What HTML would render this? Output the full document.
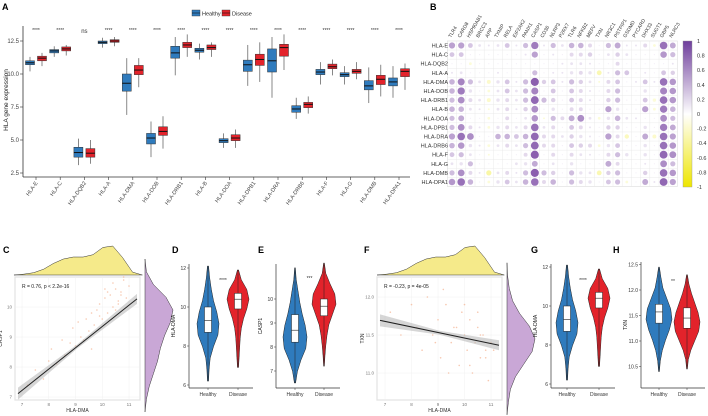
<!DOCTYPE html>
<html><head><meta charset="utf-8"><style>
body{margin:0;background:#fff}
svg{display:block;font-family:"Liberation Sans",Arial,sans-serif}
</style></head><body>
<svg id="fig" width="708" height="416" viewBox="0 0 708 416"></svg>
<script>
// ---------- Panel A data ----------
const genes=["HLA-E","HLA-C","HLA-DQB2","HLA-A","HLA-DMA","HLA-DOB","HLA-DRB1","HLA-B","HLA-DOA","HLA-DPB1","HLA-DRA","HLA-DRB6","HLA-F","HLA-G","HLA-DMB","HLA-DPA1"];
const healthyMed=[10.85,11.75,4.05,12.4,9.3,5.15,11.6,11.8,4.95,10.7,11.0,7.35,10.15,9.95,9.1,9.4];
const healthyQ1=[10.7,11.6,3.7,12.3,8.7,4.7,11.2,11.65,4.8,10.2,10.15,7.1,9.95,9.8,8.8,9.1];
const healthyQ3=[11.0,11.85,4.45,12.5,10.0,5.5,12.1,11.95,5.1,11.05,11.9,7.6,10.35,10.1,9.5,9.7];
const healthyLo=[10.2,11.3,3.1,12.0,6.9,3.7,9.9,11.1,4.4,9.1,8.2,6.6,9.2,9.2,7.8,8.2];
const healthyHi=[11.3,12.1,5.1,12.75,11.2,6.4,12.8,12.3,5.5,12.2,12.8,8.2,10.9,10.6,10.5,10.6];
const diseaseMed=[11.2,11.9,4.0,12.5,10.3,5.65,12.2,12.0,5.15,11.1,12.0,7.7,10.55,10.2,9.6,10.2];
const diseaseQ1=[11.0,11.75,3.7,12.4,9.95,5.35,12.0,11.85,4.95,10.65,11.35,7.45,10.4,10.05,9.2,9.8];
const diseaseQ3=[11.35,12.05,4.35,12.6,10.65,6.0,12.4,12.2,5.4,11.5,12.25,7.85,10.75,10.35,9.9,10.4];
const diseaseLo=[10.6,11.4,3.2,12.1,9.0,4.35,11.3,11.3,4.4,9.4,10.3,7.0,9.9,9.6,8.3,8.8];
const diseaseHi=[11.6,12.2,5.0,12.8,11.2,6.8,13.0,12.4,5.8,12.4,13.0,8.3,11.1,10.9,10.7,10.8];
const sigLabels=["****","****","ns","****","****","****","****","****","****","****","****","****","****","****","****","****"];
const yTicksA=[2.5,5.0,7.5,10.0,12.5];
// ---------- Panel B data ----------
const corrRows=["HLA-E","HLA-C","HLA-DQB2","HLA-A","HLA-DMA","HLA-DOB","HLA-DRB1","HLA-B","HLA-DOA","HLA-DPB1","HLA-DRA","HLA-DRB6","HLA-F","HLA-G","HLA-DMB","HLA-DPA1"];
const corrCols=["TLR4","CARD8","HSP90AB1","BRCC3","APP","TXNIP","RELA","EIF2AK2","PANX1","CASP1","CD36","NLRP3","P2RX7","TLR6","NFKB2","MEFV","TXN","NR3C1","PSTPIP1","GSDMD","PYCARD","DHX33","SUGT1","GBP5","NLRC3"];
const corrVals=[
[.5,.5,.3,.1,.05,.1,.3,.05,.35,.7,.05,.35,.1,.4,.4,.2,0,.35,.45,.05,.05,.2,-.1,.75,.45],
[.3,.3,0,0,0,0,0,0,.05,.5,0,.05,0,.2,.2,.25,0,.1,.25,.1,0,0,0,.55,.35],
[0,0,-.1,0,0,0,0,0,0,0,0,0,.05,.1,.1,.05,0,0,.2,0,0,0,0,0,.05],
[.05,.1,0,0,0,.05,0,0,0,.35,0,.05,.05,.15,.2,.15,-.3,.05,.35,.3,0,.05,0,.3,.25],
[.4,.65,.35,.1,-.2,.15,.3,.05,.35,.85,.25,.3,.05,.35,.25,.1,-.05,.2,.3,0,.05,.3,.05,.75,.55],
[.4,.7,.15,0,-.1,.1,.3,.1,.35,.65,0,.3,0,.3,.2,.05,0,.2,.35,0,0,.15,0,.65,.55],
[.35,.6,.2,.1,-.2,.15,.2,.1,.35,.8,.35,.25,0,.3,.2,.05,0,.25,.35,0,0,.3,-.15,.75,.55],
[.4,.4,.1,.05,-.05,.1,.2,.05,.25,.6,0,.15,0,.2,.2,0,0,.5,.15,0,0,.5,-.1,.7,.4],
[.35,.45,0,0,-.1,0,.2,0,.1,.55,-.05,.35,.2,.45,.6,.1,-.1,.15,.4,.1,.05,0,0,.6,.35],
[.35,.6,.2,.05,-.1,.15,.2,.1,.2,.75,.1,.2,0,.3,.2,.05,0,.25,.25,0,0,.15,0,.7,.45],
[.5,.75,.6,0,0,.4,.4,.3,.4,.8,.2,.2,.1,.25,.15,.05,0,.5,.2,-.25,0,.45,-.2,.75,.5],
[.4,.55,.15,.05,-.1,.1,.2,.1,.35,.8,.2,.2,0,.3,.25,.2,-.1,.15,.3,0,0,.15,0,.75,.55],
[.3,.35,.1,0,-.05,0,0,0,.2,.85,0,.2,0,.2,.1,.05,0,.2,.35,.15,0,.15,0,.8,.6],
[.1,.15,.35,0,0,0,0,.1,.15,.45,0,.1,0,.15,0,0,0,.45,.2,0,0,.05,0,.6,.35],
[.35,.6,.2,.05,-.35,.1,.2,.05,.35,.85,.35,.25,0,.35,.15,.1,-.3,.25,.35,0,0,.25,0,.75,.55],
[.55,.75,.4,0,-.1,.15,.3,.1,.4,.75,.2,.4,0,.35,.2,.15,0,.3,.35,-.1,0,.45,.05,.8,.5]];
const cbarTicks=[1,0.8,0.6,0.4,0.2,0,-0.2,-0.4,-0.6,-0.8,-1];
// ---------- Scatter data ----------
const scatC_x=[7.2,7.5,7.8,8.0,8.1,8.3,8.5,8.6,8.8,8.9,9.0,9.1,9.2,9.3,9.4,9.5,9.6,9.7,9.8,9.9,10.0,10.1,10.2,10.3,10.4,10.5,10.6,10.7,10.8,10.9,11.0,10.2,10.4,9.6,10.6,10.8,9.9,10.5,10.1,10.7];
const scatC_y=[7.4,7.9,7.6,8.2,8.6,8.1,8.9,8.4,8.8,9.3,8.7,9.5,9.0,8.9,9.6,9.2,9.8,9.4,9.9,10.1,9.6,10.3,9.8,10.4,10.0,10.6,10.2,10.5,10.9,10.3,10.7,10.5,10.8,8.6,10.1,11.0,9.7,9.9,10.6,10.4];
const regC=[2.25,0.71];
const scatF_x=[7.2,7.6,8.0,8.2,8.4,8.6,8.8,9.0,9.1,9.3,9.5,9.6,9.8,9.9,10.0,10.1,10.2,10.3,10.4,10.5,10.6,10.7,10.8,10.9,11.0,9.2,9.7,10.2,10.5,10.8,8.9,9.4,10.0,10.6,11.1];
const scatF_y=[11.8,11.5,11.9,11.6,11.3,12.0,11.5,11.7,11.2,11.9,11.4,11.6,11.1,11.8,11.5,11.3,11.7,11.0,11.4,11.6,11.2,11.5,11.3,10.9,11.4,12.1,11.6,11.1,11.8,11.2,11.4,11.0,11.9,11.5,11.3];
const regF=[12.19,-0.073];
const densDMA=[0,.03,.08,.2,.4,.55,.62,.62,.7,.95,1,.6,.1,0];
const densCASP1=[0,.05,.15,.3,.45,.55,.7,.9,1,.75,.3,.05,0];
const densTXN=[0,.05,.12,.3,.6,.9,1,.8,.45,.2,.08,.02,0];
// ---------- Violin data ----------
const vD_H=[6.2,8.7,9.3,10.0,12.1], vD_D=[6.9,9.9,10.4,10.7,11.9];
const vD_Hdens=[.05,.1,.2,.5,.9,1,.8,.5,.3,.15,.05], vD_Ddens=[.05,.1,.15,.2,.3,.5,.8,1,.8,.3,.05];
const vE_H=[6.5,8.2,8.7,9.35,11.3], vE_D=[7.2,9.3,9.7,10.0,11.5];
const vE_Hdens=[.05,.2,.5,.9,1,.85,.6,.4,.25,.1,.03], vE_Ddens=[.03,.08,.15,.25,.4,.7,1,.9,.5,.15,.03];
const vH_H=[10.4,11.35,11.57,11.72,12.45], vH_D=[10.45,11.25,11.45,11.65,12.3];
const vH_Hdens=[.03,.1,.25,.5,.8,1,.9,.6,.3,.15,.03], vH_Ddens=[.03,.1,.3,.6,.9,1,.85,.6,.35,.15,.03];

const NS="http://www.w3.org/2000/svg";
const svg=document.getElementById('fig');
function el(tag,attrs,parent,text){const e=document.createElementNS(NS,tag);for(const k in attrs)e.setAttribute(k,attrs[k]);if(text!==undefined)e.textContent=text;(parent||svg).appendChild(e);return e;}
const BLUE="#2f7bbd",RED="#e3232b";

function panelLabel(t,x,y){const e=el('text',{x:x,y:y,'font-size':9,'font-weight':'bold',fill:'#000'},svg,t);

}

// ===== Panel A =====
panelLabel('A',2,10);panelLabel('B',430,10);panelLabel('C',3,253);panelLabel('D',172,253);panelLabel('E',258,253);panelLabel('F',364,253);panelLabel('G',531,253);panelLabel('H',613,253);
const gA=el('g',{});


const ayA=v=>41+(12.5-v)*13.2;
const axA=i=>36+i*24.2;
el('line',{x1:23,y1:26,x2:23,y2:177,stroke:'#333','stroke-width':0.8},gA);
el('line',{x1:23,y1:177,x2:410,y2:177,stroke:'#333','stroke-width':0.8},gA);
yTicksA.forEach(v=>{el('line',{x1:20,x2:23,y1:ayA(v),y2:ayA(v),stroke:'#333','stroke-width':.6},gA);
const t=el('text',{x:19,y:ayA(v)+2,'font-size':6,'text-anchor':'end',fill:'#444'},gA,v.toFixed(1));
});
const yt=el('text',{x:8,y:100,'font-size':6.5,'text-anchor':'middle',transform:'rotate(-90 8 100)',fill:'#222'},gA,'HLA gene expression');

function box(cx,lo,q1,med,q3,hi,col,name){
 const g=el('g',{},gA);
 
 
 el('line',{x1:cx,x2:cx,y1:ayA(hi),y2:ayA(lo),stroke:'#555','stroke-width':.7},g);
 el('rect',{x:cx-4.5,y:ayA(q3),width:9,height:ayA(q1)-ayA(q3),fill:col,stroke:'#333','stroke-width':.5},g);
 el('line',{x1:cx-4.5,x2:cx+4.5,y1:ayA(med),y2:ayA(med),stroke:'#111','stroke-width':1},g);
}
genes.forEach((gname,i)=>{
 const c=axA(i);
 box(c-6,healthyLo[i],healthyQ1[i],healthyMed[i],healthyQ3[i],healthyHi[i],BLUE,'box-healthy-'+gname.toLowerCase());
 box(c+6,diseaseLo[i],diseaseQ1[i],diseaseMed[i],diseaseQ3[i],diseaseHi[i],RED,'box-disease-'+gname.toLowerCase());
 const s=el('text',{x:c,y:sigLabels[i]==='ns'?33:32,'font-size':sigLabels[i]==='ns'?6:5,'text-anchor':'middle',fill:'#333'},gA,sigLabels[i]);
 
 el('line',{x1:c,x2:c,y1:177,y2:180,stroke:'#333','stroke-width':.6},gA);
 const t=el('text',{x:c+2,y:183,'font-size':5.5,'text-anchor':'end',fill:'#444',transform:`rotate(-55 ${c+2} 183)`},gA,gname);
 
});
// legend
const lg=el('g',{});
el('rect',{x:192,y:10,width:8,height:6,fill:BLUE,stroke:'#333','stroke-width':.4},lg);
el('line',{x1:192,x2:200,y1:13,y2:13,stroke:'#111','stroke-width':.6},lg);
let le=el('text',{x:202,y:15.5,'font-size':5.5,fill:'#222'},lg,'Healthy');
el('rect',{x:222,y:10,width:8,height:6,fill:RED,stroke:'#333','stroke-width':.4},lg);
el('line',{x1:222,x2:230,y1:13,y2:13,stroke:'#111','stroke-width':.6},lg);
le=el('text',{x:232,y:15.5,'font-size':5.5,fill:'#222'},lg,'Disease');

// ===== Panel B =====
const gB=el('g',{});
const bx=j=>452+j*9.2, by=i=>45.5+i*9.1;
el('rect',{x:bx(0)-4.6,y:by(0)-4.55,width:25*9.2,height:16*9.1,fill:'#fff',stroke:'#ddd','stroke-width':.5},gB);
for(let j=0;j<=25;j++)el('line',{x1:bx(0)-4.6+j*9.2,x2:bx(0)-4.6+j*9.2,y1:by(0)-4.55,y2:by(15)+4.55,stroke:'#e6e6e6','stroke-width':.4},gB);
for(let i=0;i<=16;i++)el('line',{x1:bx(0)-4.6,x2:bx(24)+4.6,y1:by(0)-4.55+i*9.1,y2:by(0)-4.55+i*9.1,stroke:'#e6e6e6','stroke-width':.4},gB);
function corrColor(v){
 if(v>=0){const a=[255,255,255],b=[118,66,160];return `rgb(${a.map((c,k)=>Math.round(c+(b[k]-c)*v)).join(',')})`;}
 const a=[255,255,255],b=[238,232,0];const t=-v;return `rgb(${a.map((c,k)=>Math.round(c+(b[k]-c)*t)).join(',')})`;
}
corrRows.forEach((r,i)=>{
 const t=el('text',{x:448,y:by(i)+2,'font-size':5.5,'text-anchor':'end',fill:'#333'},gB,r);
 
 corrCols.forEach((c,j)=>{
  const v=corrVals[i][j];
  const cc=el('circle',{cx:bx(j),cy:by(i),r:Math.max(0.6,Math.sqrt(Math.abs(v))*4.4),fill:corrColor(Math.max(0.15,Math.abs(v))*Math.sign(v||1)*(Math.abs(v)<0.02?0:1))},gB);
  if(Math.abs(v)<0.02)cc.setAttribute('fill','#f4eff8');
  
 });
});
corrCols.forEach((c,j)=>{
 const t=el('text',{x:bx(j)-1,y:38,'font-size':5,fill:'#333',transform:`rotate(-60 ${bx(j)-1} 38)`},gB,c);
 
});
const defs=el('defs',{});
const grad=el('linearGradient',{id:'cb',x1:0,y1:0,x2:0,y2:1},defs);
el('stop',{offset:'0%','stop-color':'#6f3f9c'},grad);el('stop',{offset:'50%','stop-color':'#ffffff'},grad);el('stop',{offset:'100%','stop-color':'#eee600'},grad);
const cb=el('rect',{x:683,y:41,width:9,height:146,fill:'url(#cb)',stroke:'#999','stroke-width':.4},gB);

cbarTicks.forEach(v=>{const y=41+(1-v)/2*146;
 const t=el('text',{x:697,y:y+2,'font-size':5.5,fill:'#333'},gB,String(v));
 });

// ===== Scatter panels =====
function scatterPanel(o){
 const g=el('g',{});
 const X=v=>o.x0+(v-o.xv0)*o.xs, Y=v=>o.y0-(v-o.yv0)*o.ys;
 el('rect',{x:o.L,y:o.T,width:o.R-o.L,height:o.B-o.T,fill:'#fff',stroke:'#e2e2e2','stroke-width':1.2},g);
 o.xt.forEach(v=>{el('line',{x1:X(v),x2:X(v),y1:o.T,y2:o.B,stroke:'#f0f0f0','stroke-width':.5},g);
  const t=el('text',{x:X(v),y:o.B+6,'font-size':4.5,'text-anchor':'middle',fill:'#777'},g,String(v));});
 o.yt.forEach(v=>{el('line',{x1:o.L,x2:o.R,y1:Y(v),y2:Y(v),stroke:'#f0f0f0','stroke-width':.5},g);
  const t=el('text',{x:o.L-3,y:Y(v)+1.5,'font-size':4.5,'text-anchor':'end',fill:'#777'},g,o.yfmt(v));});
 o.px.forEach((v,k)=>{const p=el('circle',{cx:X(v),cy:Y(o.py[k]),r:.8,fill:'#f3b08f','fill-opacity':.7},g);});
 const xa=o.xv0-(o.x0-o.L-3)/o.xs, xb=o.xv0+(o.R-3-o.x0)/o.xs;
 const ya=o.reg[0]+o.reg[1]*xa, yb=o.reg[0]+o.reg[1]*xb;
 const band=el('polygon',{points:`${X(xa)},${Y(ya)-6} ${X((xa+xb)/2)},${Y((ya+yb)/2)-2} ${X(xb)},${Y(yb)-5} ${X(xb)},${Y(yb)+5} ${X((xa+xb)/2)},${Y((ya+yb)/2)+2} ${X(xa)},${Y(ya)+6}`,fill:'#bbb','fill-opacity':.6},g);
 
 const ln=el('line',{x1:X(xa),y1:Y(ya),x2:X(xb),y2:Y(yb),stroke:'#222','stroke-width':1},g);
 
 let t=el('text',{x:o.L+7,y:o.T+11,'font-size':5,fill:'#222'},g,o.stat);
 t=el('text',{x:(o.L+o.R)/2,y:o.B+12,'font-size':5,'text-anchor':'middle',fill:'#333'},g,o.xlab);
 t=el('text',{x:o.L-13,y:(o.T+o.B)/2,'font-size':5,'text-anchor':'middle',fill:'#333',transform:`rotate(-90 ${o.L-13} ${(o.T+o.B)/2})`},g,o.ylab);
 const n=o.dTop.length, xv0=6.7, xv1=11.5;
 let d=`M${X(xv0)},${o.T-2}`;o.dTop.forEach((h,k)=>{d+=` L${X(xv0+(xv1-xv0)*k/(n-1))},${o.T-2-h*29}`;});d+=` L${X(xv1)},${o.T-2} Z`;
 const dt=el('path',{d:d,fill:'#f5ea8a',stroke:'#333','stroke-width':.5,'stroke-linejoin':'round'},g);
 const m=o.dRight.length;
 d=`M${o.R+5},${Y(o.yr[0])}`;o.dRight.forEach((h,k)=>{d+=` L${o.R+5+h*28},${Y(o.yr[0]+(o.yr[1]-o.yr[0])*k/(m-1))}`;});d+=` L${o.R+5},${Y(o.yr[1])} Z`;
 const dr=el('path',{d:d,fill:'#c9a7d6',stroke:'#333','stroke-width':.5},g);
}
scatterPanel({name:'panel-c-scatter',L:15,R:140,T:277,B:400,x0:22,xv0:7,xs:26.75,y0:397,yv0:7,ys:30,xt:[7,8,9,10,11],yt:[7,8,9,10],yfmt:v=>String(v),px:scatC_x,py:scatC_y,reg:regC,stat:'R = 0.76, p < 2.2e-16',xlab:'HLA-DMA',ylab:'CASP1',dTop:densDMA,dRight:densCASP1,yr:[6.5,11.6]});
scatterPanel({name:'panel-f-scatter',L:377,R:502,T:277,B:400,x0:385,xv0:7,xs:26.5,y0:373,yv0:11,ys:76,xt:[7,8,9,10,11],yt:[11,11.5,12],yfmt:v=>v.toFixed(1),px:scatF_x,py:scatF_y,reg:regF,stat:'R = -0.23, p = 4e-05',xlab:'HLA-DMA',ylab:'TXN',dTop:densDMA,dRight:densTXN,yr:[10.45,12.45]});

// ===== Violin panels =====
function violinPanel(o){
 const g=el('g',{});
 const Y=v=>o.y0-(v-o.yv0)*o.ys;
 el('line',{x1:o.ax,x2:o.ax,y1:o.top,y2:o.bot,stroke:'#333','stroke-width':.7},g);
 el('line',{x1:o.ax,x2:o.ax+o.w,y1:o.bot,y2:o.bot,stroke:'#333','stroke-width':.7},g);
 o.yt.forEach(v=>{el('line',{x1:o.ax-2,x2:o.ax,y1:Y(v),y2:Y(v),stroke:'#333','stroke-width':.5},g);
  const t=el('text',{x:o.ax-3,y:Y(v)+1.8,'font-size':5,'text-anchor':'end',fill:'#333'},g,o.yfmt(v));});
 let t=el('text',{x:o.ax-14,y:(o.top+o.bot)/2,'font-size':5,'text-anchor':'middle',fill:'#222',transform:`rotate(-90 ${o.ax-14} ${(o.top+o.bot)/2})`},g,o.ylab);
 [[o.hx,o.hs,o.hd,BLUE,'Healthy'],[o.dx,o.ds,o.dd,RED,'Disease']].forEach(([cx,s,dens,col,lab])=>{
  const n=dens.length;let L=[],R=[];
  dens.forEach((h,k)=>{const v=s[0]+(s[4]-s[0])*k/(n-1);L.push(`${cx-h*o.hw},${Y(v)}`);R.push(`${cx+h*o.hw},${Y(v)}`);});
  const p=el('path',{d:`M${cx},${Y(s[0])} L${L.join(' L')} L${cx},${Y(s[4])} L${R.reverse().join(' L')} Z`,fill:col,stroke:'#222','stroke-width':.5,'stroke-linejoin':'round'},g);
  
  el('line',{x1:cx,x2:cx,y1:Y(s[0]),y2:Y(s[4]),stroke:'#222','stroke-width':.5},g);
  const b=el('rect',{x:cx-3.5,y:Y(s[3]),width:7,height:Y(s[1])-Y(s[3]),fill:'#fff',stroke:'#222','stroke-width':.5},g);
  
  el('line',{x1:cx-3.5,x2:cx+3.5,y1:Y(s[2]),y2:Y(s[2]),stroke:'#222','stroke-width':.6},g);
  el('line',{x1:cx,x2:cx,y1:o.bot,y2:o.bot+2,stroke:'#333','stroke-width':.5},g);
  const tt=el('text',{x:cx,y:o.bot+8,'font-size':5,'text-anchor':'middle',fill:'#333'},g,lab);
 });
 t=el('text',{x:(o.hx+o.dx)/2,y:o.sigY,'font-size':5,'text-anchor':'middle',fill:'#333'},g,o.sig);
}
violinPanel({name:'panel-d-violin',ax:189,w:64,top:264,bot:388,y0:307,yv0:10,ys:19.5,yt:[6,8,10,12],yfmt:v=>String(v),ylab:'HLA-DMA',hx:208,dx:238,hs:vD_H,ds:vD_D,hd:vD_Hdens,dd:vD_Ddens,hw:11,sig:'****',sigY:282});
violinPanel({name:'panel-e-violin',ax:276,w:64,top:264,bot:388,y0:299,yv0:10,ys:24,yt:[7,8,9,10],yfmt:v=>String(v),ylab:'CASP1',hx:295,dx:324,hs:vE_H,ds:vE_D,hd:vE_Hdens,dd:vE_Ddens,hw:12,sig:'***',sigY:280});
violinPanel({name:'panel-g-violin',ax:551,w:64,top:264,bot:388,y0:306,yv0:10,ys:19.5,yt:[6,8,10,12],yfmt:v=>String(v),ylab:'HLA-DMA',hx:567,dx:599,hs:vD_H,ds:vD_D,hd:vD_Hdens,dd:vD_Ddens,hw:11,sig:'****',sigY:282});
violinPanel({name:'panel-h-violin',ax:641,w:64,top:262,bot:388,y0:290,yv0:12,ys:51,yt:[10.5,11,11.5,12,12.5],yfmt:v=>v.toFixed(1),ylab:'TXN',hx:659,dx:687,hs:vH_H,ds:vH_D,hd:vH_Hdens,dd:vH_Ddens,hw:13,sig:'**',sigY:283});
</script>
</body></html>
